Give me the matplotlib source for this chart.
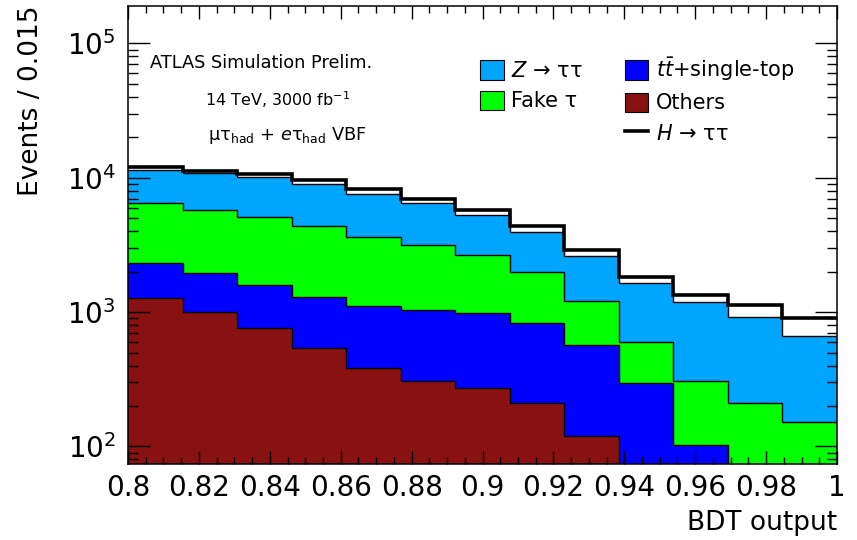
"""
Stacked BDT output distribution (log scale), ATLAS-style, 14 TeV 3000 fb-1.
"""
import matplotlib
matplotlib.use("Agg")
import matplotlib.pyplot as plt
import matplotlib.ticker as mticker
from matplotlib.patches import Patch
from matplotlib.lines import Line2D
import numpy as np

# ── Data ──────────────────────────────────────────────────────────────────────
edges = np.linspace(0.8, 1.0, 14)          # 13 bins

others  = [1273, 1000, 759, 541, 383, 306, 270, 212, 119, 50, 30, 20, 15]
ttbar   = [1052, 958, 841, 760, 726, 734, 707, 615, 453, 248, 72, 40, 35]
fake    = [4215, 3837, 3500, 3064, 2531, 2093, 1683, 1165, 643, 305, 204, 151, 103]
ztautau = [4860, 4975, 4950, 4590, 3990, 3322, 2620, 1948, 1391, 1045, 874, 716, 515]
higgs   = [600, 500, 590, 700, 590, 545, 470, 460, 318, 179, 151, 201, 234]

C_Z      = "#00A5FF"
C_FAKE   = "#00FF00"
C_TTBAR  = "#0000FF"
C_OTHERS = "#881111"

plt.rcParams["font.family"] = ["DejaVu Sans"]
plt.rcParams["mathtext.fontset"] = "dejavusans"

# ── Figure ────────────────────────────────────────────────────────────────────
fig = plt.figure(figsize=(8.57, 5.40), dpi=100)
ax = fig.add_axes([128 / 857, 1 - 464 / 540, 709 / 857, 458 / 540])
ax.set_yscale("log")

YMIN = 74
stack = [np.array(others, float)]
for comp in (ttbar, fake, ztautau):
    stack.append(stack[-1] + np.array(comp, float))
total = stack[-1] + np.array(higgs, float)

colors = [C_OTHERS, C_TTBAR, C_FAKE, C_Z]
prev = np.full(len(others), 1.0)
for cum, col in zip(stack, colors):
    ax.stairs(cum, edges, baseline=prev, fill=True, color=col, lw=0)
    prev = cum
for cum in stack:
    ax.stairs(cum, edges, baseline=None, color="black", lw=1.0)
ax.stairs(total, edges, baseline=None, color="black", lw=2.6)

ax.set_xlim(0.8, 1.0)
ax.set_ylim(YMIN, 1.9e5)

# ticks
ax.xaxis.set_major_locator(mticker.MultipleLocator(0.02))
ax.xaxis.set_minor_locator(mticker.MultipleLocator(0.005))
ax.xaxis.set_major_formatter(mticker.FuncFormatter(lambda v, p: f"{v:g}"))
ax.yaxis.set_major_locator(mticker.LogLocator(base=10, numticks=10))
ax.yaxis.set_minor_locator(mticker.LogLocator(base=10, subs=np.arange(2, 10), numticks=20))
ax.yaxis.set_minor_formatter(mticker.NullFormatter())

ax.tick_params(axis="both", which="both", direction="in", top=True, right=True,
               labelsize=20, width=1.0)
ax.tick_params(axis="x", which="major", length=9.4, pad=7)
ax.tick_params(axis="x", which="minor", length=5)
ax.tick_params(axis="y", which="major", length=15.5, pad=9)
ax.tick_params(axis="y", which="minor", length=7.5)
for s in ax.spines.values():
    s.set_linewidth(1.1)

ax.set_xlabel("BDT output", fontsize=19, loc="right")
ax.xaxis.set_label_coords(1.0, -0.100)
ax.set_ylabel("Events / 0.015", fontsize=19, loc="top")
ax.yaxis.set_label_coords(-0.118, 1.0)

# annotations
ax.text(0.031, 0.876, "ATLAS Simulation Prelim.", transform=ax.transAxes,
        fontsize=12.8, va="center", ha="left")
ax.text(0.1086, 0.795, r"14 TeV, 3000 fb$^{-1}$", transform=ax.transAxes,
        fontsize=11.5, va="center", ha="left")
ax.text(0.113, 0.718, r"μτ$_{\mathrm{had}}$ + $e$τ$_{\mathrm{had}}$ VBF",
        transform=ax.transAxes, fontsize=12.8, va="center", ha="left")

# legend
handles = [
    Patch(facecolor=C_Z, edgecolor="black", lw=0.8),
    Patch(facecolor=C_FAKE, edgecolor="black", lw=0.8),
    Patch(visible=False),
    Patch(facecolor=C_TTBAR, edgecolor="black", lw=0.8),
    Patch(facecolor=C_OTHERS, edgecolor="black", lw=0.8),
    Line2D([0], [0], color="black", lw=2.6),
]
labels = [r"$Z$ → ττ", "Fake τ", "", r"$t\bar{t}$+single-top", "Others",
          r"$H$ → ττ"]
ax.legend(handles, labels, ncol=2, loc="upper left",
          bbox_to_anchor=((480 - 128) / 709, (464 - 56) / 458),
          frameon=False, fontsize=15, borderpad=0, borderaxespad=0,
          handlelength=1.15, handleheight=1.05, handletextpad=0.35,
          labelspacing=0.45, columnspacing=2.0)

fig.savefig("out.png", dpi=100)
